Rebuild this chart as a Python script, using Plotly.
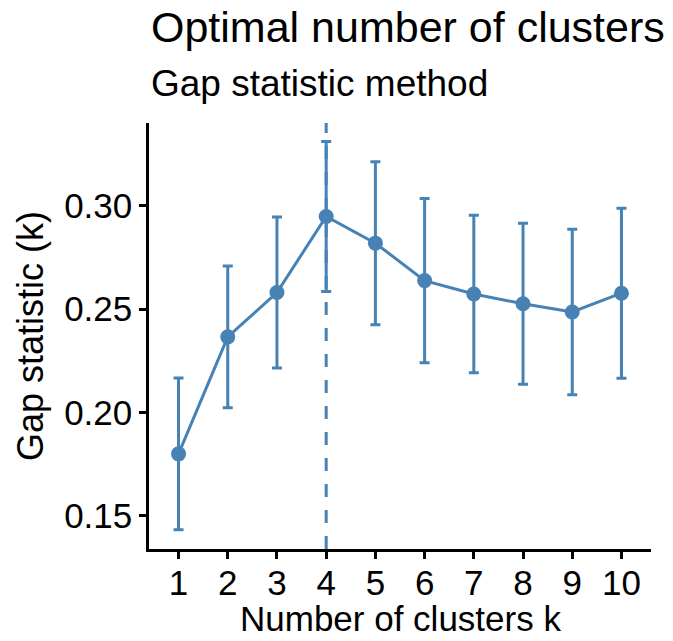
import plotly.graph_objects as go

# Gap statistic for k = 1..10 with its standard error
k_values = [1, 2, 3, 4, 5, 6, 7, 8, 9, 10]
gap_values = [0.1800, 0.2366, 0.2580, 0.2948, 0.2819, 0.2638, 0.2573, 0.2526, 0.2486, 0.2577]
gap_se = [0.0367, 0.0343, 0.0365, 0.0363, 0.0394, 0.0397, 0.0381, 0.0389, 0.0400, 0.0411]
optimal_k = 4

x_tick_labels = [str(k) for k in k_values]
y_tick_values = [0.15, 0.20, 0.25, 0.30]
y_tick_labels = ["0.15", "0.20", "0.25", "0.30"]

STEEL = "#4682B4"
FONT = "Liberation Sans, Arial, Helvetica, sans-serif"

fig = go.Figure()

fig.add_trace(go.Scatter(
    x=k_values,
    y=gap_values,
    mode="lines+markers",
    line=dict(color=STEEL, width=3),
    marker=dict(color=STEEL, size=15),
    error_y=dict(type="data", array=gap_se, visible=True,
                 color=STEEL, thickness=3, width=5),
    showlegend=False,
))

# vertical marker at the chosen number of clusters
fig.add_shape(type="line", xref="x", yref="paper",
              x0=optimal_k, x1=optimal_k, y0=0, y1=1,
              line=dict(color=STEEL, width=3, dash="13px,13px"),
              layer="below")

plot_left, plot_w = 149, 502
plot_top, plot_h = 123, 426

def paper_y(px):
    return 1 + (plot_top - px) / plot_h

def paper_x(px):
    return (px - plot_left) / plot_w

def add_text(text, x, y, size, angle=0, xanchor="left"):
    fig.add_annotation(text=text, xref="paper", yref="paper",
                       x=x, y=y, xanchor=xanchor, yanchor="middle",
                       textangle=angle, showarrow=False,
                       font=dict(family=FONT, size=size, color="black"))

add_text("Optimal number of clusters", 0, paper_y(27), 43)
add_text("Gap statistic method", 0, paper_y(83), 37)
add_text("Number of clusters k", 0.5, paper_y(618), 35, xanchor="center")
add_text("Gap statistic (k)", paper_x(30), 0.5, 36, angle=-90, xanchor="center")

fig.update_layout(
    width=673, height=641,
    margin=dict(l=plot_left, r=673 - plot_left - plot_w,
                t=plot_top, b=641 - plot_top - plot_h),
    paper_bgcolor="white", plot_bgcolor="white",
    font=dict(family=FONT, color="black"),
)

fig.update_xaxes(
    range=[0.4, 10.6], automargin=False,
    tickmode="array", tickvals=k_values, ticktext=x_tick_labels,
    showline=True, linecolor="black", linewidth=2.5,
    ticks="outside", ticklen=7, tickwidth=2.5, tickcolor="black",
    ticklabelstandoff=-6,
    showgrid=False, zeroline=False,
    tickfont=dict(family=FONT, size=35, color="black"),
)

fig.update_yaxes(
    range=[0.134, 0.340], automargin=False,
    tickmode="array", tickvals=y_tick_values, ticktext=y_tick_labels,
    showline=True, linecolor="black", linewidth=2.5,
    ticks="outside", ticklen=7, tickwidth=2.5, tickcolor="black",
    showgrid=False, zeroline=False,
    tickfont=dict(family=FONT, size=35, color="black"),
)

fig.write_html("out.html")
